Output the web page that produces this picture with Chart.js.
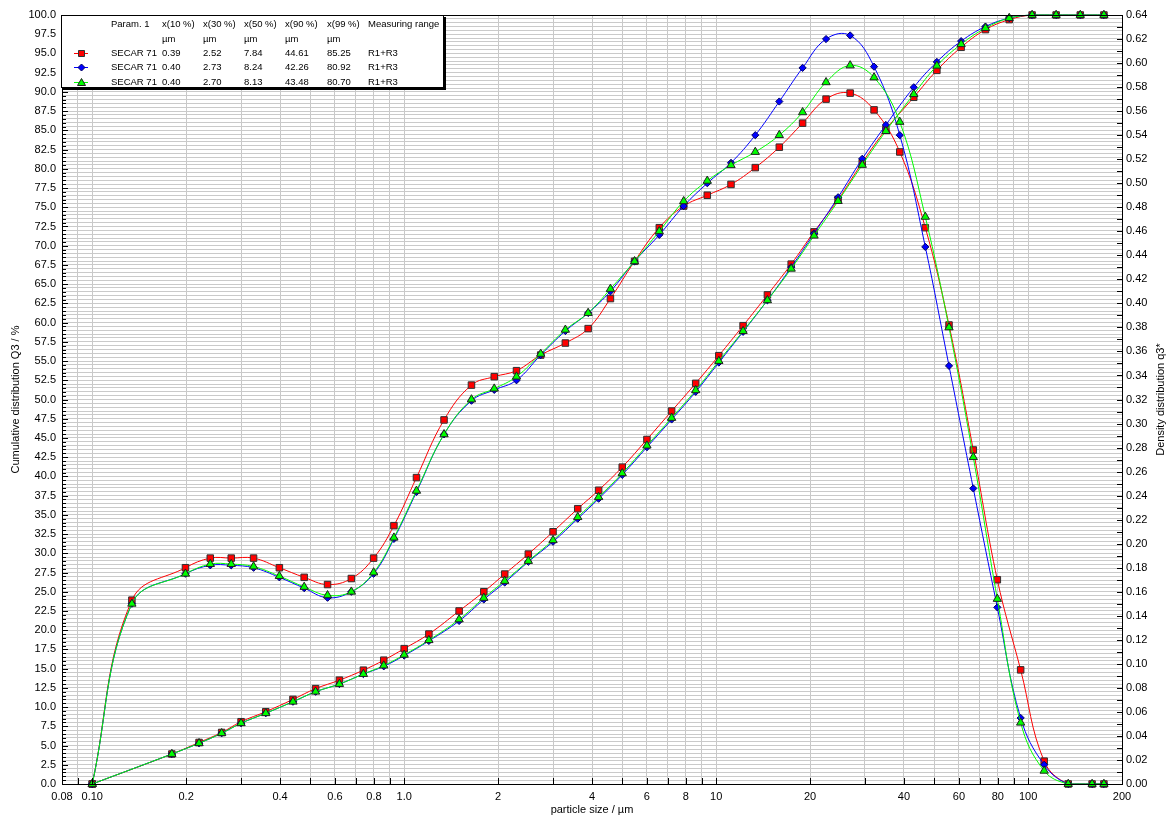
<!DOCTYPE html>
<html>
<head>
<meta charset="utf-8">
<title>SECAR 71 - particle size distribution</title>
<script src="https://cdn.jsdelivr.net/npm/chart.js@4.4.0/dist/chart.umd.min.js"></script>
<style>
    html, body { margin: 0; padding: 0; background: #fff; }
    #wrap { width: 1170px; height: 818px; }
</style>
</head>
<body>
<div id="wrap"><canvas id="psdChart" width="1170" height="818"></canvas></div>
<script>
// upper class limits in µm (R1+R3), cumulative Q3 is plotted here
const sizeBounds = [0.10, 0.18, 0.22, 0.26, 0.30, 0.36, 0.44, 0.52, 0.62, 0.74, 0.86,
    1.00, 1.20, 1.50, 1.80, 2.10, 2.50, 3.00, 3.60, 4.20, 5.00, 6.00, 7.20, 8.60,
    10.2, 12.2, 14.6, 17.4, 20.6, 24.6, 29.4, 35.0, 43.0, 51.0, 61.0, 73.0, 87.0,
    103, 123, 147, 175];

// class centres in µm, density q3* is plotted here
const densitySizes = [0.10, 0.134, 0.199, 0.239, 0.279, 0.329, 0.398, 0.478, 0.568, 0.677,
    0.798, 0.927, 1.095, 1.342, 1.643, 1.944, 2.291, 2.739, 3.286, 3.888, 4.583, 5.477,
    6.573, 7.870, 9.367, 11.16, 13.35, 15.94, 18.93, 22.51, 26.89, 32.08, 38.79, 46.83,
    55.78, 66.73, 79.69, 94.66, 112.6, 134.5, 160.4, 175];

// cumulative distribution Q3 / %
const redQ3 = [0, 3.9, 5.4, 6.7, 8.1, 9.4, 11.0, 12.4, 13.5, 14.8, 16.1, 17.6, 19.5, 22.5,
    25.0, 27.3, 29.9, 32.8, 35.8, 38.2, 41.2, 44.8, 48.5, 52.1, 55.7, 59.6, 63.6, 67.6,
    71.8, 76.0, 80.8, 85.1, 89.3, 92.8, 95.8, 98.1, 99.4, 100, 100, 100, 100];
const blueQ3 = [0, 3.9, 5.3, 6.6, 7.9, 9.2, 10.7, 12.0, 13.0, 14.3, 15.3, 16.7, 18.6, 21.2,
    24.0, 26.2, 28.9, 31.5, 34.5, 37.1, 40.2, 43.8, 47.4, 51.0, 54.8, 58.8, 62.9, 67.2,
    71.6, 76.3, 81.3, 85.7, 90.6, 93.9, 96.6, 98.5, 99.6, 100, 100, 100, 100];
const greenQ3 = [0, 3.9, 5.3, 6.6, 7.9, 9.2, 10.7, 12.0, 13.0, 14.3, 15.4, 16.8, 18.7, 21.4,
    24.2, 26.4, 29.0, 31.7, 34.7, 37.3, 40.4, 44.0, 47.6, 51.2, 55.0, 58.9, 62.9, 67.0,
    71.3, 75.8, 80.5, 84.9, 89.7, 93.4, 96.2, 98.3, 99.6, 100, 100, 100, 100];

// density distribution q3*
const redQ3d = [0, 0.153, 0.180, 0.188, 0.188, 0.188, 0.180, 0.172, 0.166, 0.171, 0.188,
    0.215, 0.255, 0.303, 0.332, 0.339, 0.344, 0.357, 0.367, 0.379, 0.404, 0.435, 0.463,
    0.481, 0.490, 0.499, 0.513, 0.530, 0.550, 0.570, 0.575, 0.561, 0.526, 0.463, 0.382,
    0.278, 0.170, 0.095, 0.019, 0, 0, 0];
const blueQ3d = [0, 0.150, 0.175, 0.182, 0.182, 0.180, 0.172, 0.163, 0.155, 0.160, 0.175,
    0.204, 0.243, 0.291, 0.319, 0.328, 0.336, 0.357, 0.377, 0.392, 0.410, 0.435, 0.457,
    0.481, 0.500, 0.517, 0.540, 0.568, 0.596, 0.620, 0.623, 0.597, 0.540, 0.447, 0.348,
    0.246, 0.147, 0.055, 0.016, 0, 0, 0];
const greenQ3d = [0, 0.150, 0.175, 0.183, 0.183, 0.181, 0.173, 0.164, 0.157, 0.160, 0.176,
    0.205, 0.244, 0.291, 0.320, 0.329, 0.339, 0.358, 0.378, 0.392, 0.412, 0.435, 0.460,
    0.485, 0.502, 0.515, 0.526, 0.540, 0.559, 0.584, 0.598, 0.588, 0.551, 0.472, 0.380,
    0.272, 0.154, 0.051, 0.011, 0, 0, 0];

// x axis grid and labels
const xGridValues = [0.08, 0.09, 0.1, 0.2, 0.3, 0.4, 0.5, 0.6, 0.7, 0.8, 0.9,
    1, 2, 3, 4, 5, 6, 7, 8, 9, 10, 20, 30, 40, 50, 60, 70, 80, 90, 100, 200];
const xLabelValues = [0.08, 0.1, 0.2, 0.4, 0.6, 0.8, 1, 2, 4, 6, 8, 10, 20, 40, 60, 80, 100, 200];
const xLabelTexts = ['0.08', '0.10', '0.2', '0.4', '0.6', '0.8', '1.0', '2', '4', '6', '8',
    '10', '20', '40', '60', '80', '100', '200'];

// legend table
const legendHeader = ['Param. 1', 'x(10 %)', 'x(30 %)', 'x(50 %)', 'x(90 %)', 'x(99 %)', 'Measuring range'];
const legendUnits = ['', 'µm', 'µm', 'µm', 'µm', 'µm', ''];
const redRow = ['SECAR 71', '0.39', '2.52', '7.84', '44.61', '85.25', 'R1+R3'];
const blueRow = ['SECAR 71', '0.40', '2.73', '8.24', '42.26', '80.92', 'R1+R3'];
const greenRow = ['SECAR 71', '0.40', '2.70', '8.13', '43.48', '80.70', 'R1+R3'];

const FONT = "'Liberation Sans', Arial, sans-serif";
Chart.defaults.font.family = FONT;
Chart.defaults.font.size = 11;
Chart.defaults.color = '#000';

function pairs(xs, ys) {
    return xs.map((x, i) => ({ x: x, y: ys[i] }));
}

const looks = {
    red: { color: '#ff0000', style: 'rect', radius: 4.6, edge: '#303030' },
    blue: { color: '#0000ff', style: 'rectRot', radius: 3.6, edge: '#000060' },
    green: { color: '#00ff00', style: 'triangle', radius: 4.8, edge: '#202020' }
};

function makeSet(name, xs, ys, axis, order) {
    const l = looks[name];
    return {
        label: name,
        data: pairs(xs, ys),
        yAxisID: axis,
        order: order,
        borderColor: l.color,
        borderWidth: 1,
        tension: 0.4,
        fill: false,
        clip: 6,
        pointStyle: l.style,
        pointRadius: l.radius,
        pointHoverRadius: l.radius,
        pointBackgroundColor: l.color,
        pointBorderColor: l.edge,
        pointBorderWidth: 1
    };
}

function drawMarker(ctx, name, x, y) {
    const l = looks[name];
    ctx.fillStyle = l.color;
    ctx.strokeStyle = l.edge;
    ctx.lineWidth = 1;
    ctx.beginPath();
    if (l.style === 'rect') {
        ctx.rect(x - 3, y - 3, 6, 6);
    } else if (l.style === 'rectRot') {
        ctx.moveTo(x, y - 3.5); ctx.lineTo(x + 3.5, y); ctx.lineTo(x, y + 3.5); ctx.lineTo(x - 3.5, y);
        ctx.closePath();
    } else {
        ctx.moveTo(x, y - 4); ctx.lineTo(x + 4, y + 3); ctx.lineTo(x - 4, y + 3);
        ctx.closePath();
    }
    ctx.fill();
    ctx.stroke();
}

// frame, inward tick marks and the right axis title
const frameTicks = {
    id: 'frameTicks',
    afterDraw(chart) {
        const { ctx, chartArea: a } = chart;
        const sx = chart.scales.x, sy = chart.scales.y, sy2 = chart.scales.y2;
        ctx.save();
        ctx.strokeStyle = '#000';
        ctx.lineWidth = 1;
        ctx.beginPath();
        sx.ticks.forEach(t => {
            const px = Math.round(sx.getPixelForValue(t.value)) + 0.5;
            ctx.moveTo(px, a.bottom); ctx.lineTo(px, a.bottom - 6);
        });
        sy.ticks.forEach(t => {
            const py = Math.round(sy.getPixelForValue(t.value)) + 0.5;
            const len = Math.round(t.value * 10) % 25 === 0 ? 6 : 4;
            ctx.moveTo(a.left, py); ctx.lineTo(a.left + len, py);
        });
        sy2.ticks.forEach(t => {
            const py = Math.round(sy2.getPixelForValue(t.value)) + 0.5;
            ctx.moveTo(a.right, py); ctx.lineTo(a.right - 5, py);
        });
        ctx.stroke();
        ctx.strokeRect(Math.round(a.left) + 0.5, Math.round(a.top) + 0.5,
            Math.round(a.right - a.left), Math.round(a.bottom - a.top));

        ctx.translate(1161, (a.top + a.bottom) / 2);
        ctx.rotate(-Math.PI / 2);
        ctx.fillStyle = '#000';
        ctx.font = '11px ' + FONT;
        ctx.textAlign = 'center';
        ctx.textBaseline = 'middle';
        ctx.fillText('Density distribution q3*', 0, 0);
        ctx.restore();
    }
};

// parameter table in the upper left corner
const legendTable = {
    id: 'legendTable',
    afterDraw(chart) {
        const { ctx, chartArea: a } = chart;
        const bx = Math.round(a.left) - 1, by = Math.round(a.top);
        const bw = 383, bh = 73;
        const cols = [50, 101, 142, 183, 224, 266, 307];
        const rowsY = [9, 24, 38, 52, 67];
        ctx.save();
        ctx.fillStyle = '#000';
        ctx.fillRect(bx + 2, by + 2, bw, bh);
        ctx.fillStyle = '#fff';
        ctx.fillRect(bx, by, bw, bh);
        ctx.strokeStyle = '#000';
        ctx.lineWidth = 1;
        ctx.strokeRect(bx + 0.5, by + 0.5, bw - 1, bh - 1);

        ctx.font = '9.5px ' + FONT;
        ctx.textAlign = 'left';
        ctx.textBaseline = 'middle';
        const rows = [legendHeader, legendUnits, redRow, blueRow, greenRow];
        rows.forEach((row, r) => {
            ctx.fillStyle = '#000';
            row.forEach((txt, c) => ctx.fillText(txt, bx + cols[c], by + rowsY[r]));
        });
        ['red', 'blue', 'green'].forEach((name, i) => {
            const y = by + rowsY[i + 2] + 0.5;
            ctx.strokeStyle = looks[name].color;
            ctx.beginPath();
            ctx.moveTo(bx + 13, y); ctx.lineTo(bx + 27, y);
            ctx.stroke();
            drawMarker(ctx, name, bx + 20.5, y);
        });
        ctx.restore();
    }
};

const ctx = document.getElementById('psdChart').getContext('2d');
const psdChart = new Chart(ctx, {
    type: 'line',
    data: {
        datasets: [
            makeSet('red', sizeBounds, redQ3, 'y', 3),
            makeSet('red', densitySizes, redQ3d, 'y2', 3),
            makeSet('blue', sizeBounds, blueQ3, 'y', 2),
            makeSet('blue', densitySizes, blueQ3d, 'y2', 2),
            makeSet('green', sizeBounds, greenQ3, 'y', 1),
            makeSet('green', densitySizes, greenQ3d, 'y2', 1)
        ]
    },
    options: {
        responsive: false,
        animation: false,
        layout: { padding: { top: 15, left: 0, right: 0, bottom: 0 } },
        plugins: {
            legend: { display: false },
            tooltip: { enabled: false }
        },
        events: [],
        scales: {
            x: {
                type: 'logarithmic',
                position: 'bottom',
                min: 0.08,
                max: 200,
                afterBuildTicks: s => { s.ticks = xGridValues.map(v => ({ value: v })); },
                afterFit: s => { s.height = 34; },
                ticks: {
                    autoSkip: false,
                    maxRotation: 0,
                    padding: 6,
                    callback: value => {
                        const i = xLabelValues.findIndex(v => Math.abs(v - value) < v * 1e-6);
                        return i >= 0 ? xLabelTexts[i] : '';
                    }
                },
                grid: { color: '#c8c8c8', drawTicks: false },
                border: { display: false },
                title: { display: true, text: 'particle size / µm', padding: { top: 0, bottom: 1 } }
            },
            y: {
                type: 'linear',
                position: 'left',
                min: 0,
                max: 100,
                afterBuildTicks: s => {
                    s.ticks = [];
                    for (let i = 0; i <= 200; i++) s.ticks.push({ value: i * 0.5 });
                },
                afterFit: s => { s.width = 62; },
                ticks: {
                    autoSkip: false,
                    padding: 6,
                    callback: value => Math.round(value * 10) % 25 === 0 ? value.toFixed(1) : ''
                },
                grid: { color: '#cacaca', drawTicks: false },
                border: { display: false },
                title: { display: true, text: 'Cumulative distribution Q3 / %', padding: { top: 9, bottom: 0 } }
            },
            y2: {
                type: 'linear',
                position: 'right',
                min: 0,
                max: 0.64,
                afterBuildTicks: s => {
                    s.ticks = [];
                    for (let i = 0; i <= 64; i++) s.ticks.push({ value: i / 100 });
                },
                afterFit: s => { s.width = 48; },
                ticks: {
                    autoSkip: false,
                    padding: 4,
                    callback: value => Math.round(value * 100) % 2 === 0 ? value.toFixed(2) : ''
                },
                grid: { drawOnChartArea: false, drawTicks: false },
                border: { display: false }
            }
        }
    },
    plugins: [frameTicks, legendTable]
});
</script>
</body>
</html>
